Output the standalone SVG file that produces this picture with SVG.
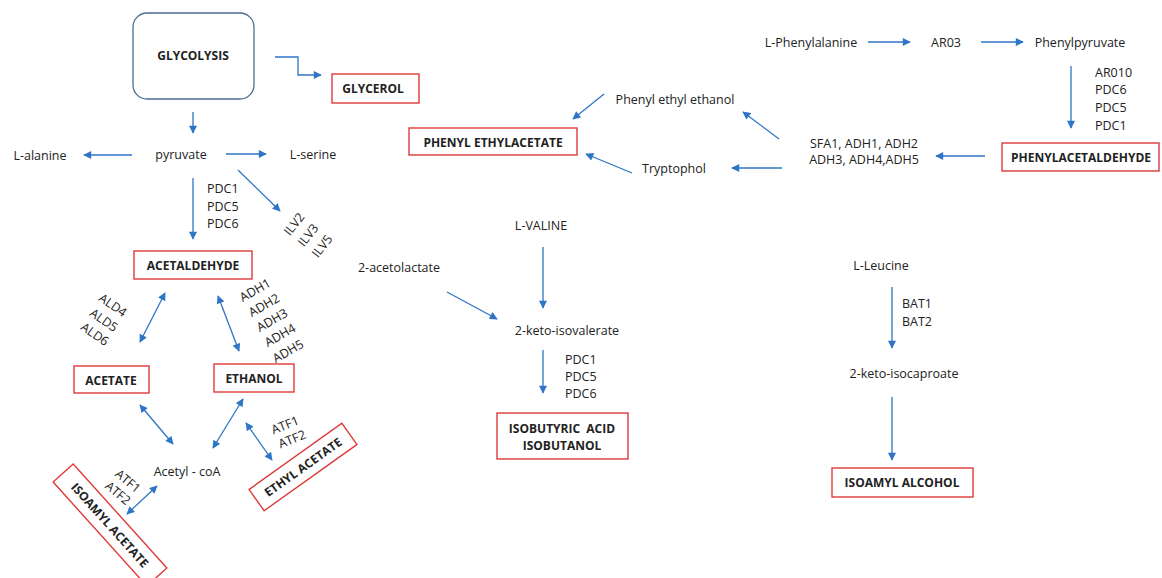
<svg xmlns="http://www.w3.org/2000/svg" width="1162" height="578" viewBox="0 0 1162 578">
<defs>
<marker id="ah" viewBox="0 0 10 10" refX="9" refY="5" markerWidth="9" markerHeight="8" markerUnits="userSpaceOnUse" orient="auto-start-reverse"><path d="M0,0 L10,5 L0,10 z" fill="#2E75C6"/></marker>
</defs>
<style>
text{font-family:"Open Sans","Liberation Sans",sans-serif;font-size:12.5px;fill:#222}
.b{font-weight:700;font-size:12px}
.m{text-anchor:middle}
.c{dominant-baseline:central}
.pre{white-space:pre}
.box{fill:#fff;stroke:#E03A3A;stroke-width:1.4}
.ln{fill:none;stroke:#2E75C6;stroke-width:1.3}
.a{marker-end:url(#ah)}
.d{marker-start:url(#ah);marker-end:url(#ah)}
</style>
<rect width="1162" height="578" fill="#fff"/>

<g id="connectors">
<path class="ln a" d="M275,57 H298 V75 H321"/>
<line class="ln a" x1="193" y1="112" x2="193" y2="133"/>
<line class="ln a" x1="132" y1="155" x2="84" y2="155"/>
<line class="ln a" x1="226" y1="154" x2="266" y2="154"/>
<line class="ln a" x1="193" y1="178" x2="193" y2="239"/>
<line class="ln a" x1="238" y1="170" x2="280" y2="211"/>
<line class="ln d" x1="165" y1="293" x2="140" y2="342"/>
<line class="ln d" x1="218" y1="296" x2="239" y2="351"/>
<line class="ln d" x1="140" y1="405" x2="173" y2="444"/>
<line class="ln d" x1="213" y1="448" x2="243" y2="399"/>
<line class="ln d" x1="246" y1="423" x2="272" y2="460"/>
<line class="ln d" x1="157" y1="486" x2="127" y2="514"/>
<line class="ln a" x1="447" y1="292" x2="497" y2="319"/>
<line class="ln a" x1="543" y1="247" x2="543" y2="308"/>
<line class="ln a" x1="543" y1="350" x2="543" y2="393"/>
<line class="ln a" x1="868" y1="42" x2="910" y2="42"/>
<line class="ln a" x1="981" y1="42" x2="1023" y2="42"/>
<line class="ln a" x1="1071" y1="66" x2="1071" y2="128"/>
<line class="ln a" x1="985" y1="156" x2="936" y2="156"/>
<line class="ln a" x1="779" y1="139" x2="743" y2="112"/>
<line class="ln a" x1="782" y1="168" x2="732" y2="168"/>
<line class="ln a" x1="604" y1="94" x2="573" y2="119"/>
<line class="ln a" x1="632" y1="173" x2="586" y2="154"/>
<line class="ln a" x1="892" y1="287" x2="892" y2="348"/>
<line class="ln a" x1="892" y1="397" x2="892" y2="460"/>
</g>

<g id="glycolysis"><rect x="133" y="13" width="121" height="86" rx="14" fill="#fff" stroke="#4A6E96" stroke-width="1.3"/><text class="b m c" x="193" y="55">GLYCOLYSIS</text></g>
<g id="glycerol"><rect class="box" x="332" y="74" width="87" height="29"/><text class="b m c" x="373" y="88">GLYCEROL</text></g>
<g id="pyruvate"><text class="m c" x="181" y="154">pyruvate</text></g>
<g id="l-alanine"><text class="m c" x="40" y="155">L-alanine</text></g>
<g id="l-serine"><text class="m c" x="313" y="154">L-serine</text></g>
<g id="pdc-labels-1"><text x="207" y="188" class="c">PDC1</text><text x="207" y="206" class="c">PDC5</text><text x="207" y="223" class="c">PDC6</text></g>
<g id="ilv-labels">
<text class="m c" transform="translate(294,224) rotate(-52)">ILV2</text>
<text class="m c" transform="translate(308,235) rotate(-52)">ILV3</text>
<text class="m c" transform="translate(322,246) rotate(-52)">ILV5</text>
</g>
<g id="acetaldehyde"><rect class="box" x="134" y="251" width="118" height="28"/><text class="b m c" x="193" y="265">ACETALDEHYDE</text></g>
<g id="ald-labels">
<text class="m c" transform="translate(113,305) rotate(35)">ALD4</text>
<text class="m c" transform="translate(104,320) rotate(35)">ALD5</text>
<text class="m c" transform="translate(95,334) rotate(35)">ALD6</text>
</g>
<g id="adh-labels">
<text class="m c" transform="translate(255,290) rotate(-30)">ADH1</text>
<text class="m c" transform="translate(264,305) rotate(-30)">ADH2</text>
<text class="m c" transform="translate(272,320) rotate(-30)">ADH3</text>
<text class="m c" transform="translate(280,335) rotate(-30)">ADH4</text>
<text class="m c" transform="translate(288,351) rotate(-30)">ADH5</text>
</g>
<g id="acetate"><rect class="box" x="74" y="366" width="75" height="27"/><text class="b m c" x="111" y="380">ACETATE</text></g>
<g id="ethanol"><rect class="box" x="214" y="364" width="80" height="28"/><text class="b m c" x="254" y="378">ETHANOL</text></g>
<g id="acetyl-coa"><text class="m c" x="187" y="471">Acetyl - coA</text></g>
<g id="atf-labels-ethyl">
<text class="m c" transform="translate(285,425) rotate(-22)">ATF1</text>
<text class="m c" transform="translate(292,439) rotate(-22)">ATF2</text>
</g>
<g id="ethyl-acetate" transform="translate(303,467) rotate(-35.5)"><rect class="box" x="-57" y="-13" width="114" height="26"/><text class="b m c" x="0" y="0">ETHYL ACETATE</text></g>
<g id="atf-labels-isoamyl">
<text class="m c" transform="translate(128,481) rotate(40)">ATF1</text>
<text class="m c" transform="translate(118,493) rotate(40)">ATF2</text>
</g>
<g id="isoamyl-acetate" transform="translate(110,525) rotate(48)"><rect class="box" x="-70" y="-13.5" width="140" height="27"/><text class="b m c" x="0" y="0">ISOAMYL ACETATE</text></g>
<g id="acetolactate"><text class="m c" x="399" y="267">2-acetolactate</text></g>
<g id="l-valine"><text class="m c" x="541" y="225">L-VALINE</text></g>
<g id="keto-isovalerate"><text class="m c" x="567" y="330">2-keto-isovalerate</text></g>
<g id="pdc-labels-2"><text x="565" y="359" class="c">PDC1</text><text x="565" y="376" class="c">PDC5</text><text x="565" y="393" class="c">PDC6</text></g>
<g id="isobutyric"><rect class="box" x="497" y="413" width="131" height="46"/><text class="b m c pre" x="562" y="428">ISOBUTYRIC  ACID</text><text class="b m c" x="562" y="445">ISOBUTANOL</text></g>
<g id="l-phenylalanine"><text class="m c" x="811" y="42">L-Phenylalanine</text></g>
<g id="aro3"><text class="m c" x="946" y="42">AR03</text></g>
<g id="phenylpyruvate"><text class="m c" x="1080" y="42">Phenylpyruvate</text></g>
<g id="aro10-labels"><text x="1095" y="72" class="c">AR010</text><text x="1095" y="89" class="c">PDC6</text><text x="1095" y="107" class="c">PDC5</text><text x="1095" y="125" class="c">PDC1</text></g>
<g id="phenylacetaldehyde"><rect class="box" x="1002" y="143" width="157" height="28"/><text class="b m c" x="1081" y="157">PHENYLACETALDEHYDE</text></g>
<g id="sfa1-labels"><text class="m c" x="864" y="143">SFA1, ADH1, ADH2</text><text class="m c" x="864" y="159">ADH3, ADH4,ADH5</text></g>
<g id="phenyl-ethyl-ethanol"><text class="m c" x="675" y="99">Phenyl ethyl ethanol</text></g>
<g id="tryptophol"><text class="m c" x="674" y="168">Tryptophol</text></g>
<g id="phenyl-ethylacetate"><rect class="box" x="409" y="128" width="168" height="27"/><text class="b m c" x="493" y="142">PHENYL ETHYLACETATE</text></g>
<g id="l-leucine"><text class="m c" x="881" y="265">L-Leucine</text></g>
<g id="bat-labels"><text x="902" y="303" class="c">BAT1</text><text x="902" y="321" class="c">BAT2</text></g>
<g id="keto-isocaproate"><text class="m c" x="904" y="373">2-keto-isocaproate</text></g>
<g id="isoamyl-alcohol"><rect class="box" x="832" y="468" width="141" height="29"/><text class="b m c" x="902" y="482">ISOAMYL ALCOHOL</text></g>
</svg>
